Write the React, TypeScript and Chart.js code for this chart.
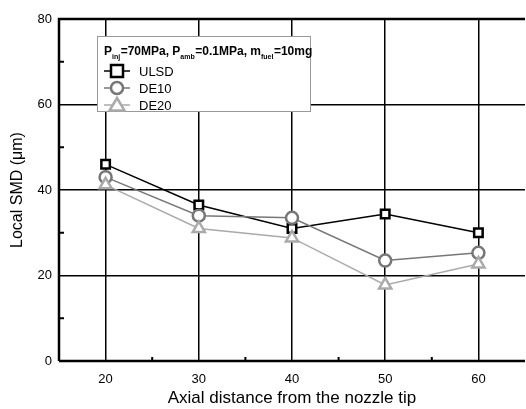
import React, { useEffect, useRef } from "react";
import { Chart, registerables } from "chart.js";
Chart.register(...registerables);

const distances = [20, 30, 40, 50, 60];
const ulsd = [46, 36.5, 31, 34.4, 30];
const de10 = [43, 34, 33.5, 23.5, 25.3];
const de20 = [41.2, 31, 28.8, 17.8, 22.7];
const xTicks = [20, 30, 40, 50, 60];
const xMinor = [25, 35, 45, 55];
const yTicks = [0, 20, 40, 60, 80];
const yMinor = [10, 30, 50, 70];

const seriesNames = ["ULSD", "DE10", "DE20"];
const seriesColors = ["#000000", "#777777", "#aaaaaa"];
const seriesShapes = ["rect", "circle", "triangle"];

const FONT = "'Liberation Sans', Arial, sans-serif";

const framePlugin = {
  id: "frame",
  afterDraw(chart: any) {
    const { ctx, chartArea: a, scales } = chart;
    const xs = scales.x, ys = scales.y;
    ctx.save();
    ctx.strokeStyle = "#000";
    ctx.lineWidth = 2.5;
    ctx.beginPath();
    ctx.moveTo(a.left, a.bottom);
    ctx.lineTo(a.left, a.top);
    ctx.lineTo(a.right, a.top);
    ctx.moveTo(a.left, a.bottom);
    ctx.lineTo(a.right, a.bottom);
    ctx.stroke();
    ctx.lineWidth = 2;
    ctx.beginPath();
    xMinor.forEach((v) => {
      const px = xs.getPixelForValue(v);
      ctx.moveTo(px, a.bottom);
      ctx.lineTo(px, a.bottom - 4);
    });
    yMinor.forEach((v) => {
      const py = ys.getPixelForValue(v);
      ctx.moveTo(a.left, py);
      ctx.lineTo(a.left + 5, py);
    });
    ctx.stroke();

    // legend box
    const bx = 97, by = 36, bw = 213, bh = 75;
    ctx.fillStyle = "#fff";
    ctx.fillRect(bx, by, bw, bh);
    ctx.strokeStyle = "#999";
    ctx.lineWidth = 1;
    ctx.strokeRect(bx + 0.5, by + 0.5, bw, bh);

    // title with subscripts
    const parts: [string, boolean][] = [
      ["P", false], ["inj", true], ["=70MPa, P", false], ["amb", true],
      ["=0.1MPa, m", false], ["fuel", true], ["=10mg", false],
    ];
    let tx = 104;
    const ty = 55;
    ctx.fillStyle = "#000";
    ctx.textBaseline = "alphabetic";
    ctx.textAlign = "left";
    parts.forEach(([t, sub]) => {
      ctx.font = sub ? `bold 7px ${FONT}` : `bold 12px ${FONT}`;
      ctx.fillText(t, tx, sub ? ty + 4 : ty);
      tx += ctx.measureText(t).width + (sub ? 0.5 : 0);
    });

    seriesNames.forEach((name, i) => {
      const ly = 71 + i * 17;
      ctx.strokeStyle = seriesColors[i];
      ctx.lineWidth = 1.5;
      ctx.beginPath();
      ctx.moveTo(104, ly);
      ctx.lineTo(130, ly);
      ctx.stroke();
      ctx.lineWidth = 2.5;
      ctx.fillStyle = "#fff";
      const mx = 117;
      ctx.beginPath();
      if (seriesShapes[i] === "rect") {
        ctx.rect(mx - 6, ly - 6, 12, 12);
      } else if (seriesShapes[i] === "circle") {
        ctx.arc(mx, ly, 6, 0, Math.PI * 2);
      } else {
        ctx.moveTo(mx, ly - 7);
        ctx.lineTo(mx + 7.5, ly + 5.5);
        ctx.lineTo(mx - 7.5, ly + 5.5);
        ctx.closePath();
      }
      ctx.fill();
      ctx.stroke();
      ctx.fillStyle = "#000";
      ctx.font = `13px ${FONT}`;
      ctx.textBaseline = "middle";
      ctx.fillText(name, 139, ly + 1);
      ctx.textBaseline = "alphabetic";
    });
    ctx.restore();
  },
};

export default function App() {
  const ref = useRef<HTMLCanvasElement>(null);
  useEffect(() => {
    document.body.style.margin = "0";
    const mk = (label: string, data: number[], i: number, style: any, radius: number) => ({
      label,
      data: distances.map((x, k) => ({ x, y: data[k] })),
      borderColor: seriesColors[i],
      backgroundColor: "#fff",
      pointBorderColor: seriesColors[i],
      pointBackgroundColor: "#fff",
      pointStyle: style,
      pointRadius: radius,
      pointBorderWidth: 2.5,
      borderWidth: 1.5,
      showLine: true,
      order: 3 - i,
    });
    const chart = new Chart(ref.current!, {
      type: "scatter",
      data: {
        datasets: [
          mk("DE20", de20, 2, "triangle", 7),
          mk("DE10", de10, 1, "circle", 6),
          mk("ULSD", ulsd, 0, "rect", 6),
        ],
      },
      options: {
        animation: false,
        responsive: false,
        layout: { autoPadding: false, padding: { top: 19, right: 1, left: 0, bottom: 0 } },
        plugins: { legend: { display: false }, tooltip: { enabled: false } },
        scales: {
          x: {
            type: "linear",
            min: 15,
            max: 65,
            afterBuildTicks: (s: any) => {
              s.ticks = xTicks.map((v) => ({ value: v }));
            },
            afterFit: (s: any) => {
              s.height = 48;
              s.paddingRight = 0;
              s.paddingLeft = 0;
            },
            grid: { color: "#000", lineWidth: 1.5, drawTicks: false },
            border: { display: false },
            ticks: { color: "#000", font: { family: FONT, size: 13 }, padding: 11 },
            title: {
              display: true,
              text: "Axial distance from the nozzle tip",
              color: "#000",
              font: { family: FONT, size: 17 },
              padding: { top: 3, bottom: 0 },
            },
          },
          y: {
            min: 0,
            max: 80,
            afterBuildTicks: (s: any) => {
              s.ticks = yTicks.map((v) => ({ value: v }));
            },
            afterFit: (s: any) => {
              s.width = 59;
            },
            grid: { color: "#000", lineWidth: 1.5, drawTicks: false },
            border: { display: false },
            ticks: { color: "#000", font: { family: FONT, size: 13 }, padding: 7 },
            title: {
              display: true,
              text: "Local SMD (μm)",
              color: "#000",
              font: { family: FONT, size: 16 },
              padding: { top: 8, bottom: 0 },
            },
          },
        },
      },
      plugins: [framePlugin],
    } as any);
    return () => chart.destroy();
  }, []);
  return (
    <div style={{ position: "fixed", left: 0, top: 0, width: 526, height: 409, background: "#fff" }}>
      <canvas ref={ref} width={526} height={409} style={{ width: 526, height: 409 }} />
    </div>
  );
}
